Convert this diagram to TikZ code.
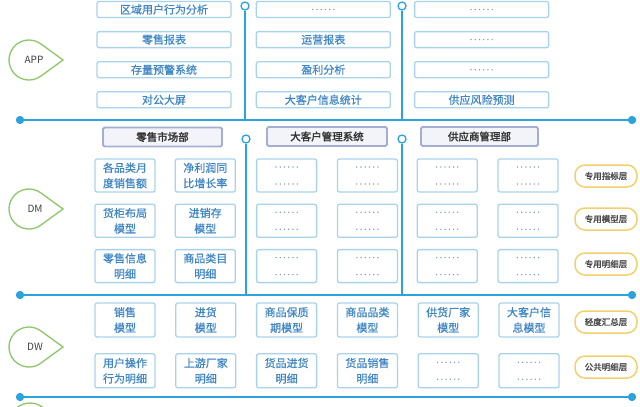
\documentclass[tikz,border=0pt]{standalone}
\usepackage{fontspec}
\setmainfont{Noto Sans CJK SC}[AutoFakeBold=2]
\newfontfamily\cellfont{Noto Sans CJK SC}[FakeBold=0.7]
\newfontfamily\dotfont{Noto Sans CJK SC}[LetterSpace=22, FakeBold=1]
\usetikzlibrary{positioning,calc}
\definecolor{lineblue}{HTML}{2AA3DF}
\definecolor{boxblue}{HTML}{A9D3EA}
\definecolor{txtblue}{HTML}{3F86C4}
\definecolor{headgray}{HTML}{A4AED2}
\definecolor{headfill}{HTML}{F2F4FA}
\definecolor{dropgreen}{HTML}{8EC66A}
\definecolor{pillyellow}{HTML}{F3D06E}
\definecolor{dotgray}{HTML}{7D97B4}

\tikzset{
  appbox/.style={draw=boxblue, line width=1.3pt, rounded corners=2pt, fill=white,
    minimum width=134pt, minimum height=16pt, inner sep=0pt, text=txtblue,
    font=\cellfont\fontsize{11}{14}\selectfont},
  cell/.style={draw=boxblue, line width=1.3pt, rounded corners=2pt, fill=white,
    minimum width=60pt, minimum height=33pt, inner sep=0pt, align=center,
    text=txtblue, font=\cellfont\fontsize{11}{15.5}\selectfont},
  blank/.style={cell, text=dotgray, font=\dotfont\fontsize{8.5}{17}\selectfont},
  dept/.style={draw=headgray, line width=1.8pt, rounded corners=1.5pt, fill=headfill,
    minimum height=19pt, inner sep=0pt, text=black!80,
    font=\fontsize{10.5}{12}\bfseries\selectfont},
  layer/.style={draw=pillyellow, line width=1.5pt, rounded corners=10pt, fill=white,
    minimum width=62pt, minimum height=22pt, inner sep=0pt, text=black!70,
    font=\fontsize{8.5}{10}\bfseries\selectfont},
  tier/.style={text=black!75, font=\fontsize{10}{11}\selectfont},
  drop/.style={draw=dropgreen, line width=1.3pt, fill=white},
  hub/.style={circle, fill=lineblue, minimum size=8pt, inner sep=0pt},
  tap/.style={circle, draw=lineblue, fill=white, line width=1.3pt, minimum size=8pt, inner sep=0pt},
  bus/.style={lineblue, line width=1.8pt},
  riser/.style={lineblue, line width=1.5pt},
}
\newcommand{\dotline}{{\dotfont\fontsize{8.5}{10}\selectfont\color{dotgray}......}}

\begin{document}
\begin{tikzpicture}[x=1pt, y=-1pt]
  \useasboundingbox (0,0) rectangle (640,407);
  \clip (0,0) rectangle (640,407);

  % Define layer tags
  \coordinate (appc) at (29,60);
  \coordinate (dmc) at (29,209);
  \coordinate (dwc) at (29,347);
  \coordinate (odsc) at (30,424);
  \draw[drop] ($(appc)+(54:20pt)$) arc[start angle=54, end angle=306, radius=20pt] -- ($(appc)+(34pt,0)$) -- cycle;
  \draw[drop] ($(dmc)+(54:20pt)$) arc[start angle=54, end angle=306, radius=20pt] -- ($(dmc)+(34pt,0)$) -- cycle;
  \draw[drop] ($(dwc)+(54:20pt)$) arc[start angle=54, end angle=306, radius=20pt] -- ($(dwc)+(34pt,0)$) -- cycle;
  \draw[drop] ($(odsc)+(54:21pt)$) arc[start angle=54, end angle=306, radius=21pt] -- ($(odsc)+(35pt,0)$) -- cycle;
  \node[tier] (app) at ($(appc)+(5pt,0)$) {APP};
  \node[tier] (dm) at ($(dmc)+(6pt,0)$) {DM};
  \node[tier] (dw) at ($(dwc)+(6pt,0)$) {DW};

  % Define bus lines
  \node[tap] (t1) at (245,6) {};
  \node[tap] (t2) at (402,6) {};
  \node[tap] (t3) at (246,139) {};
  \node[tap] (t4) at (402,139) {};
  \node[hub] (h1l) at (20,120) {};
  \node[hub] (h1r) at (632,120) {};
  \node[hub] (h2l) at (20,295) {};
  \node[hub] (h2r) at (632,295) {};
  \node[hub] (h3l) at (20,397) {};
  \node[hub] (h3r) at (632,397) {};
  \draw[riser] (t1) -- (t1 |- h1l);
  \draw[riser] (t2) -- (t2 |- h1l);
  \draw[riser] (t3) -- (t3 |- h2l);
  \draw[riser] (t4) -- (t4 |- h2l);
  \draw[bus] (h1l) -- (h1r);
  \draw[bus] (h2l) -- (h2r);
  \draw[bus] (h3l) -- (h3r);
  \node[hub] at (h1l) {};
  \node[hub] at (h1r) {};
  \node[hub] at (h2l) {};
  \node[hub] at (h2r) {};
  \node[hub] at (h3l) {};
  \node[hub] at (h3r) {};

  % APP boxes
  \node[appbox] (a11) at (164,9.5) {区域用户行为分析};
  \node[appbox, below=12.8pt of a11] (a12) {零售报表};
  \node[appbox, below=12.8pt of a12] (a13) {存量预警系统};
  \node[appbox, below=12.8pt of a13] (a14) {对公大屏};
  \node[appbox, right=24pt of a11] (a21) {\dotline};
  \node[appbox, below=12.8pt of a21] (a22) {运营报表};
  \node[appbox, below=12.8pt of a22] (a23) {盈利分析};
  \node[appbox, below=12.8pt of a23] (a24) {大客户信息统计};
  \node[appbox, right=23pt of a21] (a31) {\dotline};
  \node[appbox, below=12.8pt of a31] (a32) {\dotline};
  \node[appbox, below=12.8pt of a32] (a33) {\dotline};
  \node[appbox, below=12.8pt of a33] (a34) {供应风险预测};

  % DM headers
  \node[dept, minimum width=119pt] (d1) at (162.5,137) {零售市场部};
  \node[dept, minimum width=120pt] (d2) at (327,136.5) {大客户管理系统};
  \node[dept, minimum width=117pt] (d3) at (479.5,136.5) {供应商管理部};

  % DM boxes
  \node[cell] (m11) at (125,175.5) {各品类月\\度销售额};
  \node[cell, below=11pt of m11] (m12) {货柜布局\\模型};
  \node[cell, below=11pt of m12] (m13) {零售信息\\明细};
  \node[cell, right=19pt of m11] (m21) {净利润同\\比增长率};
  \node[cell, below=11pt of m21] (m22) {进销存\\模型};
  \node[cell, below=11pt of m22] (m23) {商品类目\\明细};
  \node[blank, right=20pt of m21] (m31) {......\\......};
  \node[blank, below=11pt of m31] (m32) {......\\......};
  \node[blank, below=11pt of m32] (m33) {......\\......};
  \node[blank, right=19.5pt of m31] (m41) {......\\......};
  \node[blank, below=11pt of m41] (m42) {......\\......};
  \node[blank, below=11pt of m42] (m43) {......\\......};
  \node[blank, right=18.5pt of m41] (m51) {......\\......};
  \node[blank, below=11pt of m51] (m52) {......\\......};
  \node[blank, below=11pt of m52] (m53) {......\\......};
  \node[blank, right=19.5pt of m51] (m61) {......\\......};
  \node[blank, below=11pt of m61] (m62) {......\\......};
  \node[blank, below=11pt of m62] (m63) {......\\......};

  % DW boxes
  \node[cell, minimum height=34pt] (w11) at (125,320) {销售\\模型};
  \node[cell, minimum height=34pt, below=15.5pt of w11] (w12) {用户操作\\行为明细};
  \node[cell, minimum height=34pt, right=19.5pt of w11] (w21) {进货\\模型};
  \node[cell, minimum height=34pt, below=15.5pt of w21] (w22) {上游厂家\\明细};
  \node[cell, minimum height=34pt, right=19.5pt of w21] (w31) {商品保质\\期模型};
  \node[cell, minimum height=34pt, below=15.5pt of w31] (w32) {货品进货\\明细};
  \node[cell, minimum height=34pt, right=19.5pt of w31] (w41) {商品品类\\模型};
  \node[cell, minimum height=34pt, below=15.5pt of w41] (w42) {货品销售\\明细};
  \node[cell, minimum height=34pt, right=19.5pt of w41] (w51) {供货厂家\\模型};
  \node[blank, minimum height=34pt, below=15.5pt of w51] (w52) {......\\......};
  \node[cell, minimum height=34pt, right=19.5pt of w51] (w61) {大客户信\\息模型};
  \node[blank, minimum height=34pt, below=15.5pt of w61] (w62) {......\\......};

  % next row, cut by the page edge
  \node[cell, minimum height=34pt, below=19pt of w12] (o1) {};
  \node[cell, minimum height=34pt, below=19pt of w22] (o2) {};
  \node[cell, minimum height=34pt, below=19pt of w32] (o3) {};
  \node[cell, minimum height=34pt, below=19pt of w42] (o4) {};
  \node[cell, minimum height=34pt, below=19pt of w52] (o5) {};
  \node[cell, minimum height=34pt, below=19pt of w62] (o6) {};

  % Define layer labels
  \node[layer] (p1) at (606,176) {专用指标层};
  \node[layer] (p2) at (606,219) {专用模型层};
  \node[layer] (p3) at (606,264) {专用明细层};
  \node[layer] (p4) at (606,322) {轻度汇总层};
  \node[layer] (p5) at (606,367) {公共明细层};
\end{tikzpicture}
\end{document}
